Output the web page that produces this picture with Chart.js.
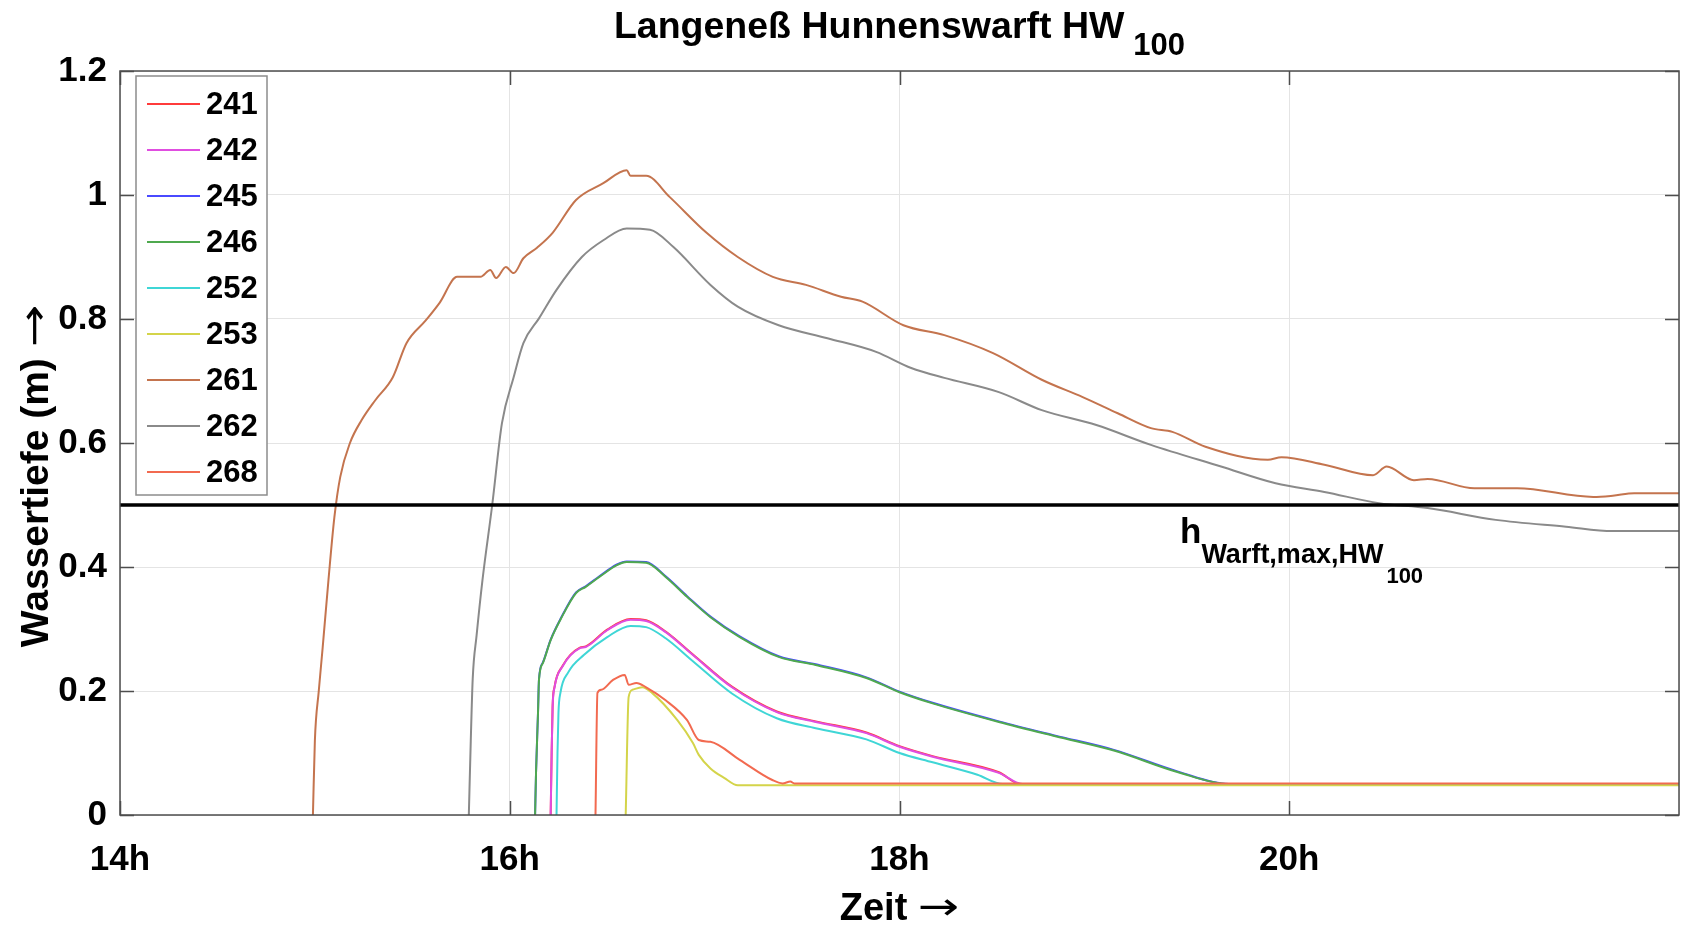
<!DOCTYPE html>
<html>
<head>
<meta charset="utf-8">
<title>Langeneß Hunnenswarft HW100</title>
<script src="https://cdn.jsdelivr.net/npm/chart.js@4/dist/chart.umd.min.js"></script>
<style>
  html, body { margin: 0; padding: 0; background: #fff; }
</style>
</head>
<body>
<canvas id="chart" width="1681" height="926"></canvas>
<script>
// Achsen: Zeit in Stunden, Wassertiefe in m
const xTicks = [14, 16, 18, 20];
const yTicks = [0, 0.2, 0.4, 0.6, 0.8, 1, 1.2];
const hWarftMax = 0.5;

const labels = ['241', '242', '245', '246', '252', '253', '261', '262', '268'];
const colors = ['#ff3b3b', '#e04ee0', '#4a4aff', '#4fa94f', '#3fd6d6', '#d4d44a', '#c4744e', '#8a8a8a', '#f26a50'];

const t241 = [16.21, 16.215, 16.22, 16.23, 16.27, 16.36, 16.39, 16.50, 16.62, 16.70, 16.80, 16.94, 17.14, 17.37, 17.57, 17.83, 18.00, 18.17, 18.51, 18.62, 22];
const h241 = [0, 0.10, 0.176, 0.207, 0.240, 0.270, 0.272, 0.299, 0.316, 0.314, 0.296, 0.259, 0.207, 0.167, 0.151, 0.133, 0.111, 0.095, 0.069, 0.050, 0.050];

const t242 = [16.21, 16.215, 16.22, 16.23, 16.27, 16.36, 16.39, 16.50, 16.62, 16.70, 16.80, 16.94, 17.14, 17.37, 17.57, 17.83, 18.00, 18.17, 18.51, 18.63, 22];
const h242 = [0, 0.10, 0.174, 0.206, 0.239, 0.269, 0.271, 0.298, 0.315, 0.313, 0.295, 0.258, 0.206, 0.166, 0.150, 0.132, 0.110, 0.094, 0.068, 0.050, 0.050];

const t245 = [16.13, 16.135, 16.145, 16.15, 16.17, 16.21, 16.26, 16.34, 16.39, 16.46, 16.55, 16.60, 16.70, 16.80, 16.91, 17.03, 17.18, 17.38, 17.57, 17.83, 18.00, 18.17, 18.51, 18.80, 19.10, 19.43, 19.69, 22];
const h245 = [0, 0.07, 0.165, 0.219, 0.246, 0.283, 0.316, 0.359, 0.369, 0.385, 0.404, 0.409, 0.408, 0.385, 0.353, 0.320, 0.288, 0.256, 0.243, 0.222, 0.199, 0.181, 0.151, 0.128, 0.105, 0.070, 0.050, 0.050];

const t246 = [16.13, 16.135, 16.145, 16.15, 16.17, 16.21, 16.26, 16.34, 16.39, 16.46, 16.55, 16.60, 16.70, 16.80, 16.91, 17.03, 17.18, 17.38, 17.57, 17.83, 18.00, 18.17, 18.51, 18.80, 19.10, 19.43, 19.69, 22];
const h246 = [0, 0.07, 0.164, 0.218, 0.245, 0.282, 0.315, 0.358, 0.368, 0.384, 0.403, 0.408, 0.407, 0.384, 0.352, 0.319, 0.287, 0.255, 0.242, 0.221, 0.198, 0.180, 0.150, 0.127, 0.104, 0.069, 0.050, 0.050];

const t252 = [16.24, 16.245, 16.25, 16.26, 16.30, 16.38, 16.50, 16.62, 16.70, 16.80, 16.94, 17.14, 17.37, 17.57, 17.83, 18.00, 18.17, 18.40, 18.53, 22];
const h252 = [0, 0.10, 0.165, 0.197, 0.230, 0.258, 0.287, 0.305, 0.303, 0.285, 0.248, 0.196, 0.156, 0.140, 0.122, 0.100, 0.085, 0.065, 0.050, 0.050];

const t253 = [16.595, 16.61, 16.63, 16.68, 16.73, 16.86, 16.94, 16.97, 17.03, 17.10, 17.17, 22];
const h253 = [0, 0.190, 0.202, 0.206, 0.197, 0.153, 0.116, 0.097, 0.075, 0.060, 0.048, 0.048];

const t261 = [14.99, 15.00, 15.02, 15.04, 15.07, 15.10, 15.13, 15.18, 15.24, 15.31, 15.40, 15.47, 15.57, 15.64, 15.73, 15.85, 15.90, 15.93, 15.98, 16.02, 16.07, 16.14, 16.22, 16.34, 16.48, 16.60, 16.62, 16.70, 16.82, 17.01, 17.17, 17.35, 17.52, 17.70, 17.81, 18.02, 18.23, 18.48, 18.73, 18.94, 19.12, 19.29, 19.40, 19.57, 19.89, 19.96, 20.18, 20.43, 20.50, 20.64, 20.71, 20.95, 21.17, 21.56, 21.66, 21.77, 22];
const h261 = [0, 0.12, 0.20, 0.27, 0.38, 0.48, 0.545, 0.600, 0.637, 0.669, 0.706, 0.761, 0.798, 0.826, 0.868, 0.868, 0.879, 0.866, 0.884, 0.874, 0.898, 0.915, 0.939, 0.992, 1.019, 1.040, 1.031, 1.031, 0.997, 0.939, 0.900, 0.868, 0.855, 0.836, 0.828, 0.790, 0.774, 0.745, 0.702, 0.674, 0.648, 0.624, 0.618, 0.594, 0.573, 0.577, 0.565, 0.548, 0.562, 0.540, 0.542, 0.527, 0.527, 0.513, 0.515, 0.519, 0.519];

const t262 = [15.79, 15.80, 15.81, 15.83, 15.86, 15.91, 15.96, 16.02, 16.07, 16.15, 16.24, 16.37, 16.48, 16.60, 16.72, 16.84, 17.03, 17.17, 17.38, 17.63, 17.88, 18.06, 18.23, 18.51, 18.73, 19.01, 19.29, 19.65, 19.93, 20.18, 20.46, 20.71, 21.06, 21.42, 21.66, 22];
const h262 = [0, 0.12, 0.22, 0.29, 0.379, 0.500, 0.632, 0.706, 0.761, 0.801, 0.847, 0.900, 0.927, 0.946, 0.944, 0.916, 0.855, 0.820, 0.790, 0.769, 0.747, 0.721, 0.705, 0.682, 0.653, 0.629, 0.597, 0.562, 0.535, 0.521, 0.503, 0.495, 0.476, 0.465, 0.458, 0.458];

const t268 = [16.44, 16.45, 16.47, 16.53, 16.59, 16.61, 16.65, 16.70, 16.80, 16.91, 16.97, 17.03, 17.18, 17.35, 17.40, 17.44, 17.46, 22];
const h268 = [0, 0.197, 0.202, 0.218, 0.226, 0.210, 0.213, 0.206, 0.185, 0.153, 0.121, 0.118, 0.089, 0.056, 0.051, 0.054, 0.051, 0.051];

const times = [t241, t242, t245, t246, t252, t253, t261, t262, t268];
const depths = [h241, h242, h245, h246, h252, h253, h261, h262, h268];

const FONT = '"Liberation Sans", Arial, Helvetica, sans-serif';
const ARROW_FONT = '"DejaVu Sans", sans-serif';

const datasets = labels.map((name, i) => ({
  label: name,
  data: times[i].map((t, k) => ({ x: t, y: depths[i][k] })),
  borderColor: colors[i],
  borderWidth: 2,
  pointRadius: 0,
  cubicInterpolationMode: 'monotone',
  fill: false,
  // MATLAB-Reihenfolge: spätere Kurven liegen oben
  order: labels.length - i + 1
}));

datasets.push({
  label: 'hWarft',
  data: [{ x: 14, y: hWarftMax }, { x: 22, y: hWarftMax }],
  borderColor: '#000',
  borderWidth: 3.5,
  pointRadius: 0,
  order: 0
});

// Text mit Tiefstellung: parts = [text, size, baseline, gap]
function drawSub(ctx, parts, x, align) {
  let total = 0;
  parts.forEach(p => {
    ctx.font = 'bold ' + p[1] + 'px ' + FONT;
    total += ctx.measureText(p[0]).width + (p[3] || 0);
  });
  let cx = align === 'center' ? x - total / 2 : x;
  ctx.textAlign = 'left';
  ctx.textBaseline = 'alphabetic';
  parts.forEach(p => {
    cx += p[3] || 0;
    ctx.font = 'bold ' + p[1] + 'px ' + FONT;
    ctx.fillText(p[0], cx, p[2]);
    cx += ctx.measureText(p[0]).width;
  });
}

// Beschriftung mit Pfeil; der Pfeil wird etwas in die Breite gezogen
function drawArrowLabel(ctx, text, size, cx, base) {
  const stretch = 1.3;
  ctx.font = 'bold ' + size + 'px ' + FONT;
  const w1 = ctx.measureText(text + ' ').width;
  ctx.font = size + 'px ' + ARROW_FONT;
  const w2 = ctx.measureText('→').width * stretch;
  const x0 = cx - (w1 + w2) / 2;
  ctx.textAlign = 'left';
  ctx.textBaseline = 'alphabetic';
  ctx.font = 'bold ' + size + 'px ' + FONT;
  ctx.fillText(text + ' ', x0, base);
  ctx.save();
  ctx.translate(x0 + w1, base - size * 0.02);
  ctx.scale(stretch, 1);
  ctx.font = size + 'px ' + ARROW_FONT;
  ctx.fillText('→', 0, 0);
  ctx.restore();
}

const decorPlugin = {
  id: 'decor',
  afterDraw(chart) {
    const { ctx, chartArea: a, scales: { x, y } } = chart;
    ctx.save();

    // Rahmen mit innenliegenden Ticks
    ctx.strokeStyle = '#4d4d4d';
    ctx.lineWidth = 1.5;
    ctx.strokeRect(a.left, a.top, a.right - a.left, a.bottom - a.top);
    ctx.beginPath();
    xTicks.forEach(v => {
      const px = Math.round(x.getPixelForValue(v)) + 0.5;
      ctx.moveTo(px, a.bottom); ctx.lineTo(px, a.bottom - 14);
      ctx.moveTo(px, a.top); ctx.lineTo(px, a.top + 14);
    });
    yTicks.forEach(v => {
      const py = Math.round(y.getPixelForValue(v)) + 0.5;
      ctx.moveTo(a.left, py); ctx.lineTo(a.left + 14, py);
      ctx.moveTo(a.right, py); ctx.lineTo(a.right - 14, py);
    });
    ctx.stroke();

    ctx.fillStyle = '#000';

    // Titel
    drawSub(ctx, [['Langeneß Hunnenswarft HW', 37.5, 38], ['100', 31, 55, 9]], (a.left + a.right) / 2, 'center');

    // Achsenbeschriftungen
    drawArrowLabel(ctx, 'Zeit', 38, (a.left + a.right) / 2, 920);

    ctx.save();
    ctx.translate(48, 476);
    ctx.rotate(-Math.PI / 2);
    drawArrowLabel(ctx, 'Wassertiefe (m)', 39, 0, 0);
    ctx.restore();

    // Beschriftung der Warfthöhe
    drawSub(ctx, [['h', 35, 543], ['Warft,max,HW', 27, 563], ['100', 22, 583, 3]], 1180, 'left');

    // Legende
    const lx = 136, ly = 76, lw = 131, lh = 419;
    ctx.fillStyle = '#fff';
    ctx.fillRect(lx, ly, lw, lh);
    ctx.strokeStyle = '#8c8c8c';
    ctx.lineWidth = 1.5;
    ctx.strokeRect(lx, ly, lw, lh);
    ctx.font = 'bold 31px ' + FONT;
    ctx.textAlign = 'left';
    ctx.textBaseline = 'middle';
    labels.forEach((name, i) => {
      const cy = 104 + i * 46.0;
      ctx.strokeStyle = colors[i];
      ctx.lineWidth = 2;
      ctx.beginPath();
      ctx.moveTo(147, cy); ctx.lineTo(200, cy);
      ctx.stroke();
      ctx.fillStyle = '#000';
      ctx.fillText(name, 206, cy + 1);
    });

    ctx.restore();
  }
};

function noPad(s) {
  s.paddingLeft = 0; s.paddingRight = 0; s.paddingTop = 0; s.paddingBottom = 0;
}

new Chart(document.getElementById('chart'), {
  type: 'line',
  data: { datasets },
  options: {
    responsive: false,
    animation: false,
    devicePixelRatio: 1,
    layout: { padding: { top: 71, right: 2, left: 0, bottom: 0 } },
    plugins: { legend: { display: false }, tooltip: { enabled: false }, title: { display: false } },
    scales: {
      x: {
        type: 'linear',
        min: 14,
        max: 22,
        afterFit: s => { s.height = 111; noPad(s); },
        afterBuildTicks: s => { s.ticks = xTicks.concat([22]).map(v => ({ value: v })); },
        border: { display: false },
        grid: { color: '#e4e4e4', lineWidth: 1, drawTicks: false },
        ticks: {
          padding: 24,
          color: '#000',
          font: { family: FONT, size: 35, weight: 'bold' },
          callback: v => (xTicks.includes(v) ? v + 'h' : '')
        }
      },
      y: {
        min: 0,
        max: 1.2,
        afterFit: s => { s.width = 120; noPad(s); },
        afterBuildTicks: s => { s.ticks = yTicks.map(v => ({ value: v })); },
        border: { display: false },
        grid: { color: '#e4e4e4', lineWidth: 1, drawTicks: false },
        ticks: {
          padding: 13,
          color: '#000',
          font: { family: FONT, size: 35, weight: 'bold' },
          callback: v => String(Number(v.toFixed(1)))
        }
      }
    }
  },
  plugins: [decorPlugin]
});
</script>
</body>
</html>
